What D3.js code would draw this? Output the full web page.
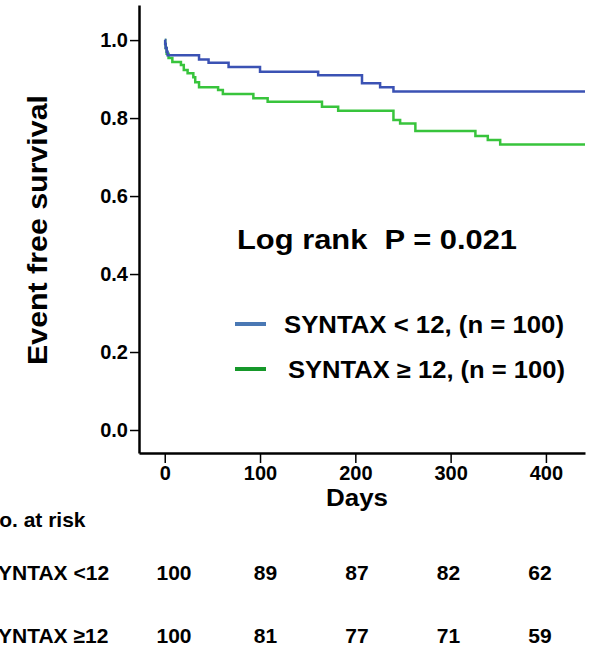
<!DOCTYPE html>
<html>
<head>
<meta charset="utf-8">
<script src="https://cdn.jsdelivr.net/npm/d3@7"></script>
<style>
  body { margin: 0; background: #fff; }
  text { font-family: "Liberation Sans", Arial, sans-serif; font-weight: bold; fill: #000; }
</style>
</head>
<body>
<div id="chart"></div>
<script>
// Số liệu (Kaplan-Meier)
const blueDays = [0, 0.5, 1, 2, 3, 36, 46, 67, 100, 161, 207, 226, 240, 441];
const blueSurv = [1.0, 0.99, 0.98, 0.97, 0.961, 0.950, 0.942, 0.931, 0.919, 0.910, 0.889, 0.879, 0.868, 0.868];

const greenDays = [0, 0.5, 1, 2, 4, 8, 17, 20, 24, 30, 32, 36, 56, 61, 93, 108, 165, 182, 240, 247, 263, 326, 339, 352, 441];
const greenSurv = [1.0, 0.99, 0.98, 0.965, 0.954, 0.944, 0.936, 0.923, 0.915, 0.905, 0.892, 0.879, 0.872, 0.862, 0.851, 0.842, 0.829, 0.819, 0.795, 0.786, 0.767, 0.754, 0.744, 0.732, 0.732];

const yTicks = [0, 0.2, 0.4, 0.6, 0.8, 1.0];
const xTicks = [0, 100, 200, 300, 400];

const groups = ["SYNTAX < 12, (n = 100)", "SYNTAX \u2265 12, (n = 100)"];
const riskLabels = ["SYNTAX <12", "SYNTAX \u226512"];
const riskCols = ["0", "100", "200", "300", "400"];
const riskBlue = [100, 89, 87, 82, 62];
const riskGreen = [100, 81, 77, 71, 59];

const W = 590, H = 647;

const svg = d3.select("#chart")
  .append("svg")
    .attr("width", W)
    .attr("height", H);

// Scale
const x = d3.scaleLinear().domain([-27, 441]).range([139, 585]);
const y = d3.scaleLinear().domain([-0.059, 1.09]).range([453, 5]);

// Trục Y
const gy = svg.append("g")
  .attr("transform", "translate(139,0)")
  .call(d3.axisLeft(y).tickValues(yTicks).tickFormat(d3.format(".1f")).tickSize(9).tickSizeOuter(0));
gy.select(".domain").attr("stroke-width", 2.5);
gy.selectAll(".tick line").attr("stroke-width", 1.5);
gy.selectAll(".tick text").attr("font-size", 20).attr("x", -11);

// Trục X
const gx = svg.append("g")
  .attr("transform", "translate(0,453)")
  .call(d3.axisBottom(x).tickValues(xTicks).tickSize(10).tickSizeOuter(0));
gx.select(".domain").attr("stroke-width", 2.5);
gx.selectAll(".tick line").attr("stroke-width", 1.5);
gx.selectAll(".tick text").attr("font-size", 20).attr("y", 13);

// Tiêu đề trục
svg.append("text")
  .attr("transform", "translate(47,230) rotate(-90)")
  .attr("text-anchor", "middle")
  .attr("font-size", 28)
  .attr("textLength", 270)
  .attr("lengthAdjust", "spacingAndGlyphs")
  .text("Event free survival");

svg.append("text")
  .attr("x", 357).attr("y", 506)
  .attr("text-anchor", "middle")
  .attr("font-size", 24)
  .attr("textLength", 62)
  .attr("lengthAdjust", "spacingAndGlyphs")
  .text("Days");

// Đường sống còn
const line = d3.line()
  .x(d => x(d[0]))
  .y(d => y(d[1]))
  .curve(d3.curveStepAfter);

svg.append("path")
  .datum(greenDays.map((d, i) => [d, greenSurv[i]]))
  .attr("fill", "none")
  .attr("stroke", "#38c43c")
  .attr("stroke-width", 2.5)
  .attr("d", line);

svg.append("path")
  .datum(blueDays.map((d, i) => [d, blueSurv[i]]))
  .attr("fill", "none")
  .attr("stroke", "#3b52b4")
  .attr("stroke-width", 2.5)
  .attr("d", line);

// Log rank
svg.append("text")
  .attr("x", 237).attr("y", 249)
  .attr("font-size", 27)
  .attr("xml:space", "preserve")
  .attr("textLength", 280)
  .attr("lengthAdjust", "spacingAndGlyphs")
  .text("Log rank  P = 0.021");

// Legend
const legendColors = ["#4a78b4", "#16982a"];
const legend = svg.selectAll("g.legend")
  .data(groups)
  .enter()
  .append("g")
    .attr("class", "legend")
    .attr("transform", (d, i) => `translate(235,${324 + i * 45})`);

legend.append("line")
  .attr("x1", 0).attr("x2", 31)
  .attr("stroke", (d, i) => legendColors[i])
  .attr("stroke-width", 4);

legend.append("text")
  .attr("x", (d, i) => i === 0 ? 49 : 53)
  .attr("y", 9)
  .attr("font-size", 23)
  .attr("textLength", (d, i) => i === 0 ? 280 : 277)
  .attr("lengthAdjust", "spacingAndGlyphs")
  .text(d => d);

// Bảng số ca nguy cơ
const col = d3.scalePoint().domain(riskCols).range([174, 540]);

svg.append("text")
  .attr("x", -16).attr("y", 527)
  .attr("font-size", 21)
  .text("No. at risk");

[riskBlue, riskGreen].forEach((row, r) => {
  const yy = 580 + r * 63;
  svg.append("text")
    .attr("x", -16).attr("y", yy)
    .attr("font-size", 21)
    .text(riskLabels[r]);
  svg.selectAll(null)
    .data(row)
    .enter()
    .append("text")
      .attr("x", (d, i) => col(riskCols[i]))
      .attr("y", yy)
      .attr("text-anchor", "middle")
      .attr("font-size", 21)
      .text(d => d);
});
</script>
</body>
</html>
